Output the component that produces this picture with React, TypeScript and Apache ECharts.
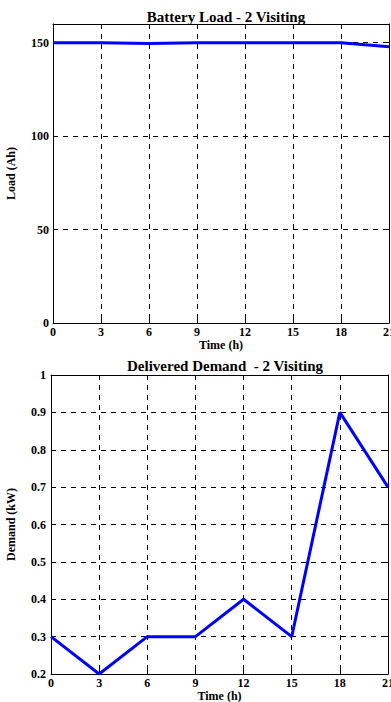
import React, { useEffect, useRef } from "react";
import * as echarts from "echarts";

const timeTicks = [0, 3, 6, 9, 12, 15, 18, 21];
const batteryLoad = [150, 150, 149.6, 150, 150, 150, 150, 147.8];
const demand = [0.3, 0.2, 0.3, 0.3, 0.4, 0.3, 0.9, 0.7];

const FONT = "'Liberation Serif', 'DejaVu Serif', serif";
const dash = { color: "#000", width: 1, type: [5, 5] as number[] };

export default function App() {
  const ref = useRef<HTMLDivElement>(null);
  useEffect(() => {
    if (!ref.current) return;
    const chart = echarts.init(ref.current, undefined, { renderer: "svg" });
    const lab = { color: "#000", fontFamily: FONT, fontWeight: "bold" as const, fontSize: 12 };
    const axisLine = { show: true, onZero: false, lineStyle: { color: "#000", width: 1 } };
    const tick = { show: true, inside: true, length: 4, lineStyle: { color: "#000" } };
    const grids = [
      { left: 53, top: 24, width: 336, height: 299, containLabel: false, outerBoundsMode: "none" },
      { left: 51, top: 375, width: 337, height: 299, containLabel: false, outerBoundsMode: "none" },
    ];
    const xBottom = (gi: number, name: string) => ({
      type: "value",
      gridIndex: gi,
      min: 0,
      max: 21,
      interval: 3,
      position: "bottom",
      axisLine,
      axisTick: tick,
      axisLabel: { ...lab, margin: 3 },
      splitLine: { show: true, lineStyle: dash },
      name,
      nameLocation: "middle",
      nameGap: 13,
      nameTextStyle: { ...lab, fontSize: 12 },
    });
    const xTop = (gi: number) => ({
      type: "value",
      gridIndex: gi,
      min: 0,
      max: 21,
      interval: 3,
      position: "top",
      axisLine,
      axisTick: tick,
      axisLabel: { show: false },
      splitLine: { show: false },
    });
    const yRight = (gi: number, min: number, max: number, interval: number) => ({
      type: "value",
      gridIndex: gi,
      min,
      max,
      interval,
      position: "right",
      axisLine,
      axisTick: tick,
      axisLabel: { show: false },
      splitLine: { show: false },
    });
    chart.setOption({
      animation: false,
      title: [
        {
          text: "Battery Load - 2 Visiting",
          left: 221,
          top: 4,
          textAlign: "center",
          textStyle: { ...lab, fontSize: 15 },
        },
        {
          text: "Delivered Demand  - 2 Visiting",
          left: 220,
          top: 353,
          textAlign: "center",
          textStyle: { ...lab, fontSize: 15 },
        },
      ],
      grid: grids,
      xAxis: [xBottom(0, "Time (h)"), xTop(0), xBottom(1, "Time (h)"), xTop(1)],
      yAxis: [
        {
          type: "value",
          gridIndex: 0,
          min: 0,
          max: 160,
          interval: 50,
          position: "left",
          axisLine,
          axisTick: tick,
          axisLabel: { ...lab, margin: 4, showMaxLabel: false },
          splitLine: { show: true, lineStyle: dash },
          name: "Load (Ah)",
          nameLocation: "middle",
          nameGap: 36,
          nameTextStyle: { ...lab, fontSize: 12 },
        },
        yRight(0, 0, 160, 50),
        {
          type: "value",
          gridIndex: 1,
          min: 0.2,
          max: 1,
          interval: 0.1,
          position: "left",
          axisLine,
          axisTick: tick,
          axisLabel: {
            ...lab,
            margin: 5,
            formatter: (v: number) => String(Number(v.toFixed(1))),
          },
          splitLine: { show: true, lineStyle: dash },
          name: "Demand (kW)",
          nameLocation: "middle",
          nameGap: 34,
          nameTextStyle: { ...lab, fontSize: 12 },
        },
        yRight(1, 0.2, 1, 0.1),
      ],
      series: [
        {
          type: "line",
          xAxisIndex: 0,
          yAxisIndex: 0,
          data: timeTicks.map((t, i) => [t, batteryLoad[i]]),
          showSymbol: false,
          lineStyle: { color: "#0000ff", width: 3 },
          z: 5,
        },
        {
          type: "line",
          xAxisIndex: 2,
          yAxisIndex: 2,
          data: timeTicks.map((t, i) => [t, demand[i]]),
          showSymbol: false,
          lineStyle: { color: "#0000ff", width: 3 },
          z: 5,
        },
      ],
    });
    return () => chart.dispose();
  }, []);
  return (
    <div
      ref={ref}
      style={{ position: "fixed", left: 0, top: 0, width: 391, height: 702, background: "#fff" }}
    />
  );
}
